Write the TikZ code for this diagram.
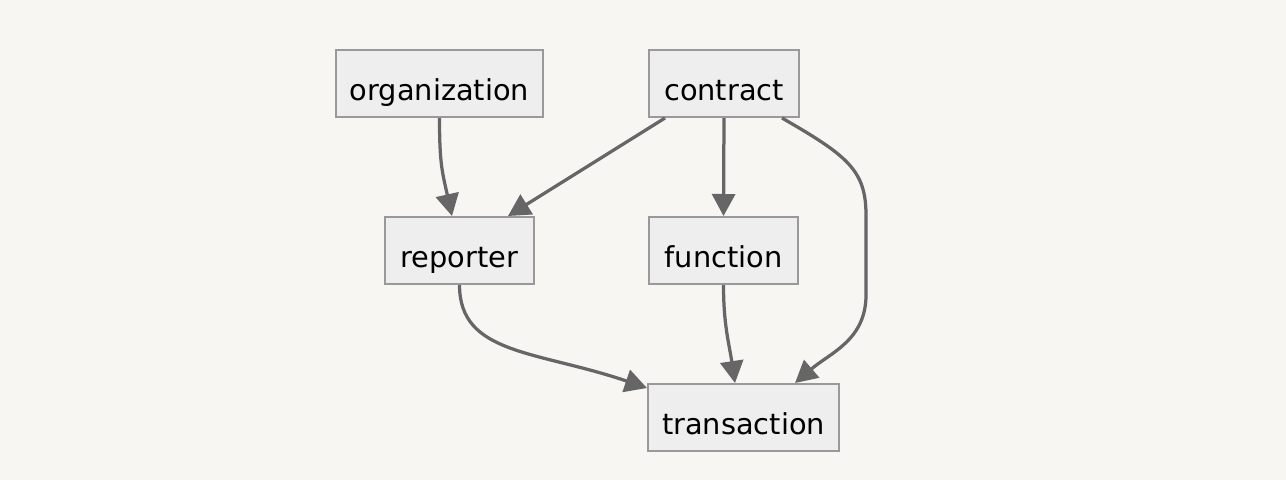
\documentclass[tikz,border=0pt]{standalone}
\usepackage{fontspec}
\setmainfont{DejaVu Sans}
\usepackage{tikz}
\usetikzlibrary{calc,arrows.meta,backgrounds}
\definecolor{bgcolor}{HTML}{F7F6F3}
\definecolor{boxfill}{HTML}{EEEEEE}
\definecolor{boxline}{HTML}{999999}
\definecolor{edgecolor}{HTML}{666666}
\newcommand{\boxheight}{1.34cm}
\newcommand{\edgewidth}{0.065cm}

\begin{document}
\begin{tikzpicture}[
  entity/.style={draw=boxline, fill=boxfill, line width=0.04cm, minimum height=\boxheight,
    inner sep=0pt, text height=0.76cm, text depth=0.1cm, font=\fontsize{16.4}{19}\selectfont},
  edge/.style={draw=edgecolor, line width=\edgewidth,
    -{Triangle[length=0.44cm,width=0.46cm]}}
]
\fill[bgcolor] (0,0) rectangle (25.72,-9.6);
\useasboundingbox (0,0) rectangle (25.72,-9.6);
\node[entity, minimum width=4.14cm] (organization) at (8.79, -1.67) {organization};
\node[entity, minimum width=3.0cm] (contract) at (14.48, -1.67) {contract};
\node[entity, minimum width=2.98cm] (reporter) at (9.19, -5.01) {reporter};
\node[entity, minimum width=2.98cm] (function) at (14.47, -5.01) {function};
\node[entity, minimum width=3.82cm] (transaction) at (14.87, -8.35) {transaction};
\coordinate (bendtop) at (17.32, -4.3);
\coordinate (bendbot) at (17.32, -5.9);
%edges
\draw[edge] (organization.south) .. controls +(0,-0.9) and +(-0.2,0.9) .. ($(reporter.north)+(-0.15,0)$);
\draw[edge] ($(contract.south)+(-1.18,0)$) -- ($(reporter.north)+(0.97,0)$);
\draw[edge] (contract.south) -- (function.north);
\draw[edge] ($(contract.south)+(1.16,0)$) .. controls +(1.3,-0.75) and +(0,0.9) .. (bendtop)
  -- (bendbot) .. controls +(0,-0.9) and +(0.7,0.6) .. ($(transaction.north)+(1.03,0)$);
\draw[edge] (reporter.south) .. controls +(0,-1.4) and +(-2.2,0.75) .. ($(transaction.north west)+(0,-0.1)$);
\draw[edge] (function.south) .. controls +(0,-0.8) and +(-0.12,0.8) .. ($(transaction.north)+(-0.17,0)$);
\end{tikzpicture}
\end{document}
